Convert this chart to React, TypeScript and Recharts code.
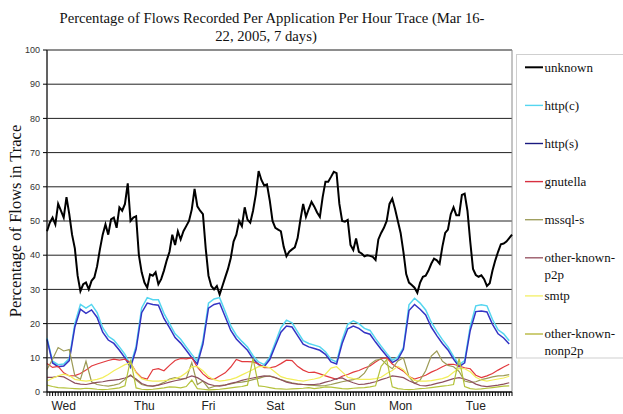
import React from 'react';
import { LineChart, Line, XAxis, YAxis, CartesianGrid, ReferenceArea } from 'recharts';

// Hourly share of flows for "unknown" (hours 0..167, Wed 00:00 .. Tue 23:00)
const unknownPct = [
  47, 49.5, 51, 49, 55, 53, 51, 57, 52, 46, 42, 34, 29.5, 31.5, 32, 30, 32.5, 33.5, 36.8, 41.7,
  46, 49, 46, 50.5, 51, 48, 54, 53, 55, 61, 50, 51, 51.4, 40, 35, 32, 30.5, 34.4, 34, 35,
  31.5, 33, 35.5, 38.5, 41, 46, 43, 47, 44.6, 47, 48.5, 50, 53.4, 59.4, 54.3, 53, 52, 42, 34, 31,
  30, 31, 28.5, 31, 33.5, 36, 39.2, 44, 46, 50, 48.5, 54, 50.4, 49.5, 53, 57.8, 64.6, 62, 60.4, 60.7,
  56, 50, 48, 47.5, 47, 42.5, 39.7, 41, 41.7, 42.3, 45, 50.3, 55, 51.2, 53.5, 55.6, 54.2, 52.5, 51.2, 57,
  61.5, 61.5, 62.9, 64.4, 64, 55, 50, 49.8, 50.3, 43, 41.5, 44.9, 41, 40.5, 39.7, 40, 39.8, 39.5, 38.6, 44.6,
  46.5, 48, 50, 55, 56.5, 53.5, 50, 46.5, 41, 34.5, 32, 31.3, 30.5, 29, 32, 33.7, 34, 35.5, 37.5, 39,
  38.5, 37.5, 42.5, 46.5, 47.5, 52, 54, 51.7, 51.7, 57.6, 58, 53, 44, 36, 34.2, 33.7, 34.1, 33, 31, 31.8,
  35.5, 38.5, 41, 43.2, 43.4, 44, 45, 46,
];

// Two-hourly readings (hours 0, 2, 4, ... 166)
const httpC = [
  15.8, 9, 8, 8.2, 9.8, 20, 25.6, 24.5, 25.6, 23.2,
  18.8, 16.3, 15.2, 13.2, 11, 7.8, 13.4, 24.6, 27.6, 27,
  27, 23, 20, 17, 15.4, 13.2, 11, 9, 15, 26,
  27.2, 27.6, 23.5, 19.3, 16.6, 14.8, 13.2, 10.6, 8.8, 8,
  10.2, 14.5, 18.8, 21, 20.2, 17.6, 15, 14.2, 13.7, 13.2,
  11.8, 9.5, 8.8, 15.2, 19.8, 20.8, 20, 18.6, 18, 15.6,
  13.4, 11.3, 9.3, 10.2, 13, 25.5, 27.4, 26, 24, 20.4,
  17.7, 15.3, 13.2, 10.4, 8, 9.2, 19.2, 25.2, 25.5, 25.2,
  21.2, 18.2, 17, 15,
];
const httpS = [
  15.4, 8.5, 7.4, 7.6, 9.2, 19, 24.2, 23, 24, 21.8,
  17.5, 15.2, 14.2, 12.2, 10, 7.2, 12.5, 23.2, 26, 25.6,
  25.4, 21.5, 18.8, 15.9, 14.3, 12.2, 10, 8.2, 14, 24.5,
  25.6, 26, 22, 18, 15.5, 13.8, 12.2, 9.7, 8, 7.4,
  9.5, 13.5, 17.5, 19.3, 19, 16.5, 14, 13.2, 12.7, 12.2,
  11, 8.8, 8.2, 14.2, 18.5, 19.3, 18.6, 17.4, 16.9, 14.6,
  12.5, 10.5, 8.6, 9.5, 12.5, 23.8, 25.6, 24.2, 22.5, 19,
  16.5, 14.2, 12.3, 9.6, 7.4, 8.5, 18, 23.5, 23.7, 23.4,
  19.8, 17, 15.8, 14,
];
const gnutella = [
  8.3, 7.2, 7.5, 5.6, 4.7, 4.8, 5.4, 6.4, 7.6, 8.2,
  8.7, 9.2, 9.6, 9.3, 9.6, 8.5, 5.8, 4.2, 3.8, 6.5,
  6.8, 6.2, 7.8, 9.2, 9.8, 9.7, 10, 7.3, 5.3, 4.0,
  3.7, 4.7, 5.6, 7.3, 9.5, 8.9, 8.9, 8.8, 8.2, 7.1,
  7.1, 7.4, 8.3, 9.3, 9.2, 7.5, 6.4, 5.7, 5.8, 5.3,
  4.7, 4.2, 3.7, 4.6, 5.1, 5.8, 6.3, 7.0, 7.6, 8.8,
  9.8, 10, 8.2, 7.1, 6.1, 4.5, 3.8, 4.3, 4.9, 5.8,
  6.5, 7.4, 8.1, 8.1, 7.6, 7.1, 6.8, 4.9, 4.2, 4.7,
  5.4, 6.4, 7.3, 8.1,
];
const mssqlS = [
  6.6, 9.6, 13, 12, 12.4, 4.7, 3.7, 9, 3, 2.2,
  1.9, 1.7, 2, 2.4, 3.7, 5, 3.5, 2.2, 1.8, 1.7,
  2.1, 2.8, 3.8, 4.2, 3.8, 3.9, 8.6, 2.2, 3.2, 1.1,
  1.6, 1.9, 2.1, 2.4, 2.7, 2.9, 3.2, 3.6, 4.0, 4.5,
  4.7, 4.2, 3.6, 3.1, 2.7, 2.4, 2.2, 2.0, 1.9, 1.8,
  1.9, 2.2, 2.6, 3.0, 3.3, 3.6, 4.1, 5.5, 8.1, 9.3,
  9.6, 8, 6.8, 9.1, 10, 4.5, 2.5, 3.5, 6.2, 10.5,
  12, 9, 7.8, 7.4, 6, 3.2, 2.8, 3.0, 3.6, 4.0,
  4.4, 4.7, 4.8, 5.1,
];
const otherP2p = [
  4.3, 4.3, 4.6, 4.4, 3.5, 2.6, 2.3, 2.2, 2.5, 2.8,
  3.0, 3.3, 3.5, 3.7, 4.1, 4.8, 3.8, 2.5, 1.9, 1.7,
  2.0, 2.4, 2.9, 3.3, 3.6, 4.1, 4.7, 4.2, 3.2, 2.3,
  1.9, 1.7, 2.0, 2.5, 2.9, 3.4, 3.8, 4.1, 4.4, 4.7,
  4.6, 4.2, 3.6, 2.9, 2.5, 2.3, 2.2, 2.2, 2.2, 2.4,
  2.9, 3.3, 3.9, 4.1, 3.3, 2.7, 2.2, 2.3, 2.6, 3.0,
  3.6, 4.1, 4.7, 4.5, 4.2, 3.3, 2.6, 1.9, 1.8, 2.1,
  2.5, 2.9, 3.4, 3.9, 4.2, 3.8, 3.2, 2.3, 1.8, 1.6,
  1.8, 2.0, 2.3, 2.7,
];
const smtp = [
  3.2, 4, 4.7, 5.2, 4.8, 3.7, 3.4, 3.2, 3.4, 3.7,
  4.2, 5.1, 6.2, 7.1, 8, 8.5, 5.6, 3.9, 3.4, 3.2,
  3.2, 3.3, 3.5, 3.9, 4.5, 5.6, 7.4, 7.4, 6.2, 4.5,
  3.6, 3.2, 3.4, 3.7, 4.2, 5.0, 5.8, 6.6, 7.4, 7.5,
  7.1, 5.8, 4.5, 4.0, 3.7, 3.4, 3.2, 3.5, 3.8, 4.2,
  5.2, 7.0, 7.4, 5.9, 4.3, 3.9, 3.7, 3.7, 3.7, 3.9,
  4.3, 5.4, 6.3, 7.5, 6.5, 4.5, 3.4, 3.2, 3.2, 3.3,
  3.6, 3.9, 4.5, 5.8, 6.9, 6.8, 5.9, 4.3, 3.5, 3.2,
  3.5, 3.8, 4.1, 4.6,
];
const otherNonP2p = [
  2.0, 1.6, 1.3, 1.2, 1.1, 1.0, 0.9, 1.1, 1.0, 0.8,
  0.7, 0.8, 1.0, 1.2, 1.8, 9.5, 1.2, 0.8, 0.7, 0.8,
  1.0, 1.2, 1.5, 1.4, 1.2, 1.6, 3.5, 1.0, 0.8, 0.6,
  0.7, 0.8, 1.0, 1.2, 1.4, 1.6, 2.0, 9.8, 1.8, 1.6,
  1.3, 1.0, 0.9, 0.8, 0.9, 1.0, 1.1, 1.3, 1.0, 1.2,
  1.5, 1.4, 1.2, 1.0, 0.9, 1.1, 1.2, 1.3, 1.5, 1.8,
  7.5, 9.5, 1.5, 1.0, 0.8, 0.7, 0.8, 1.0, 1.1, 1.3,
  1.5, 1.7, 1.9, 2.2, 9.8, 1.6, 1.0, 0.8, 0.9, 1.1,
  1.3, 1.5, 1.7, 1.8,
];

const dayLabels = ['Wed', 'Thu', 'Fri', 'Sat', 'Sun', 'Mon', 'Tue'];
const dayLabelHours = [6, 35, 58, 82, 107, 127, 154];
const yTicks = [0, 10, 20, 30, 40, 50, 60, 70, 80, 90, 100];
const hourTicks = unknownPct.map((_, h) => h);

const series = [
  { key: 'unknown', name: ['unknown'], color: '#000000', legendColor: '#000000', width: 2 },
  { key: 'httpC', name: ['http(c)'], color: '#55d6f0', legendColor: '#55d6f0', width: 1.5 },
  { key: 'httpS', name: ['http(s)'], color: '#3434c4', legendColor: '#1a1a80', width: 1.5 },
  { key: 'gnutella', name: ['gnutella'], color: '#e23a3e', legendColor: '#d83040', width: 1.2 },
  { key: 'mssqlS', name: ['mssql-s'], color: '#9c9a55', legendColor: '#a0a060', width: 1.2 },
  { key: 'otherP2p', name: ['other-known-', 'p2p'], color: '#8e4f5f', legendColor: '#9a5a68', width: 1.2 },
  { key: 'smtp', name: ['smtp'], color: '#f2ee5a', legendColor: '#f4f070', width: 1.2 },
  { key: 'otherNonP2p', name: ['other-known-', 'nonp2p'], color: '#b4c23a', legendColor: '#b8b840', width: 1.2 },
];

const twoHourly: Record<string, number[]> = {
  httpC, httpS, gnutella, mssqlS, otherP2p, smtp, otherNonP2p,
};

const rows = unknownPct.map((u, h) => {
  const row: Record<string, number | null> = { h, unknown: u };
  Object.keys(twoHourly).forEach((k) => {
    row[k] = h % 2 === 0 ? twoHourly[k][h / 2] : null;
  });
  return row;
});

const DayTick = (props: any) => {
  const { x, y, payload } = props;
  const idx = dayLabelHours.indexOf(payload.value);
  if (idx < 0) return <g />;
  return (
    <text x={x} y={y + 12.3} textAnchor="middle" fontSize={12}
      fontFamily="'Liberation Sans', Arial, sans-serif" fill="#222">
      {dayLabels[idx]}
    </text>
  );
};

const serif = "'Liberation Serif', 'Times New Roman', serif";

export default function App() {
  return (
    <div style={{ position: 'absolute', left: 0, top: 0, width: 623, height: 414, overflow: 'hidden', background: '#fff' }}>
      <LineChart width={623} height={414} data={rows} margin={{ top: 50, right: 111, bottom: 0, left: 0 }}>
        <CartesianGrid vertical={false} stroke="#222" strokeWidth={1} />
        <XAxis dataKey="h" type="number" domain={[0, 167]} ticks={hourTicks} interval={0}
          height={22} tickSize={4} axisLine={{ stroke: '#000' }} tickLine={{ stroke: '#000' }}
          tick={<DayTick />} />
        <YAxis domain={[0, 100]} ticks={yTicks} interval={0} width={47} tickSize={4} tickMargin={3}
          axisLine={{ stroke: '#000' }} tickLine={{ stroke: '#000' }}
          tick={{ fontSize: 9, fill: '#333', fontFamily: "'Liberation Sans', Arial, sans-serif" }} />
        <ReferenceArea x1={0} x2={167} y1={0} y2={100} fill="none" stroke="#8a8a8a" strokeWidth={1} ifOverflow="visible" />
        {series.map((s) => (
          <Line key={s.key} dataKey={s.key} stroke={s.color} strokeWidth={s.width} dot={false}
            type="linear" connectNulls isAnimationActive={false} />
        ))}
      </LineChart>
      <svg width={623} height={414} style={{ position: 'absolute', left: 0, top: 0, pointerEvents: 'none' }}>
        <text x={272} y={22.7} textAnchor="middle" fontFamily={serif} fontSize={14.7} fill="#111">
          Percentage of Flows Recorded Per Application Per Hour Trace (Mar 16-
        </text>
        <text x={266} y={40.5} textAnchor="middle" fontFamily={serif} fontSize={14.7} fill="#111">
          22, 2005, 7 days)
        </text>
        <text x={0} y={0} transform="translate(20.5,221) rotate(-90)" textAnchor="middle"
          fontFamily={serif} fontSize={16.5} fill="#111">
          Percentage of Flows in Trace
        </text>
        <rect x={516.5} y={54.5} width={120} height={303.5} fill="#fff" stroke="#cfcfcf" strokeWidth={1} />
        {series.map((s, i) => {
          const ly = 67.3 + i * 38.1;
          return (
            <g key={s.key}>
              <line x1={525} x2={543} y1={ly} y2={ly} stroke={s.legendColor} strokeWidth={s.key === 'unknown' ? 2 : 1.4} />
              {s.name.map((t, j) => (
                <text key={j} x={544.5} y={ly + 4.3 + j * 17} fontFamily={serif} fontSize={13} fill="#111">{t}</text>
              ))}
            </g>
          );
        })}
      </svg>
    </div>
  );
}
